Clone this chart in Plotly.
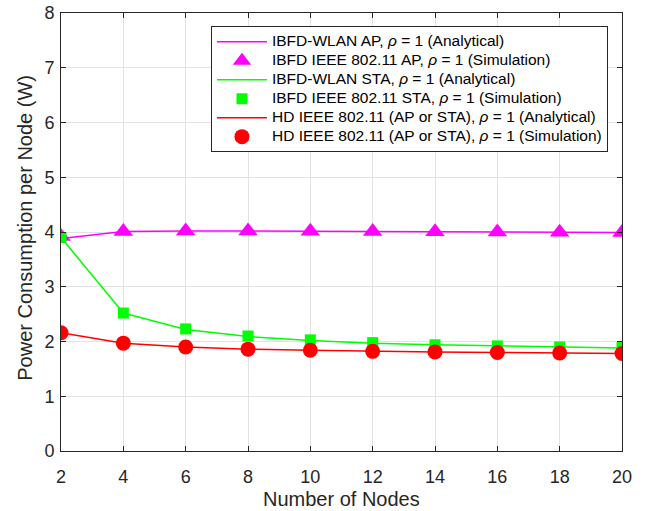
import plotly.graph_objects as go

nodes = [2, 4, 6, 8, 10, 12, 14, 16, 18, 20]
ap_analytical = [3.88, 4.01, 4.02, 4.02, 4.015, 4.01, 4.005, 4.0, 3.995, 3.99]
ap_simulation = [3.92, 4.01, 4.02, 4.02, 4.015, 4.01, 4.005, 4.0, 3.995, 3.99]
sta_analytical = [3.90, 2.52, 2.22, 2.09, 2.02, 1.97, 1.94, 1.92, 1.90, 1.88]
sta_simulation = [3.90, 2.52, 2.23, 2.10, 2.03, 1.98, 1.94, 1.92, 1.90, 1.89]
hd_analytical = [2.16, 1.97, 1.90, 1.86, 1.84, 1.82, 1.81, 1.80, 1.79, 1.78]
hd_simulation = [2.16, 1.97, 1.90, 1.86, 1.84, 1.82, 1.81, 1.80, 1.79, 1.78]
x_ticks = [2, 4, 6, 8, 10, 12, 14, 16, 18, 20]
y_ticks = [0, 1, 2, 3, 4, 5, 6, 7, 8]


def lg(txt):
    return f"<span style='font-size:15.5px'>{txt}</span>"


rho = "<i>ρ</i> = 1"
fig = go.Figure()
fig.add_trace(go.Scatter(x=nodes, y=ap_analytical, mode="lines",
                         line=dict(color="#FF00FF", width=1.5),
                         name=lg(f"IBFD-WLAN AP, {rho} (Analytical)")))
fig.add_trace(go.Scatter(x=nodes, y=ap_simulation, mode="markers",
                         marker=dict(color="#FF00FF", symbol="triangle-up", size=17),
                         name=lg(f"IBFD IEEE 802.11 AP, {rho} (Simulation)")))
fig.add_trace(go.Scatter(x=nodes, y=sta_analytical, mode="lines",
                         line=dict(color="#00FF00", width=1.5),
                         name=lg(f"IBFD-WLAN STA, {rho} (Analytical)")))
fig.add_trace(go.Scatter(x=nodes, y=sta_simulation, mode="markers",
                         marker=dict(color="#00FF00", symbol="square", size=11),
                         name=lg(f"IBFD IEEE 802.11 STA, {rho} (Simulation)")))
fig.add_trace(go.Scatter(x=nodes, y=hd_analytical, mode="lines",
                         line=dict(color="#FF0000", width=1.5),
                         name=lg(f"HD IEEE 802.11 (AP or STA), {rho} (Analytical)")))
fig.add_trace(go.Scatter(x=nodes, y=hd_simulation, mode="markers",
                         marker=dict(color="#FF0000", symbol="circle", size=15),
                         name=lg(f"HD IEEE 802.11 (AP or STA), {rho} (Simulation)")))

axis_common = dict(showline=True, linecolor="#262626", linewidth=1, mirror="ticks",
                   ticks="inside", ticklen=5, tickcolor="#262626",
                   showgrid=True, gridcolor="#E3E3E3", gridwidth=1, zeroline=False,
                   automargin=False, ticklabeloverflow="allow",
                   tickfont=dict(size=18, color="#262626"))
fig.update_layout(
    width=657, height=511,
    margin=dict(l=61, r=35, t=13, b=60),
    paper_bgcolor="white", plot_bgcolor="white",
    font=dict(family="Liberation Sans, Arial, sans-serif", color="#262626"),
    xaxis=dict(range=[2, 20], tickvals=x_ticks, ticklabelstandoff=9, **axis_common),
    yaxis=dict(range=[0, 8], tickvals=y_ticks, ticklabelstandoff=2, **axis_common),
    legend=dict(x=0.975, y=0.97, xanchor="right", yanchor="top",
                bgcolor="white", bordercolor="#262626", borderwidth=1,
                font=dict(size=12, color="black"), tracegroupgap=0,
                itemwidth=50),
    showlegend=True,
    annotations=[
        dict(text="Number of Nodes", xref="paper", yref="paper", x=0.5, y=-0.11,
             xanchor="center", yanchor="middle", showarrow=False,
             font=dict(size=20, color="#262626")),
        dict(text="Power Consumption per Node (W)", xref="paper", yref="paper",
             x=-0.064, y=0.51, textangle=-90, xanchor="center", yanchor="middle",
             showarrow=False, font=dict(size=20, color="#262626")),
    ],
)
fig.write_html("out.html", config={"displayModeBar": False},
               post_script="document.body.style.margin='0px';document.body.style.overflow='hidden';")
